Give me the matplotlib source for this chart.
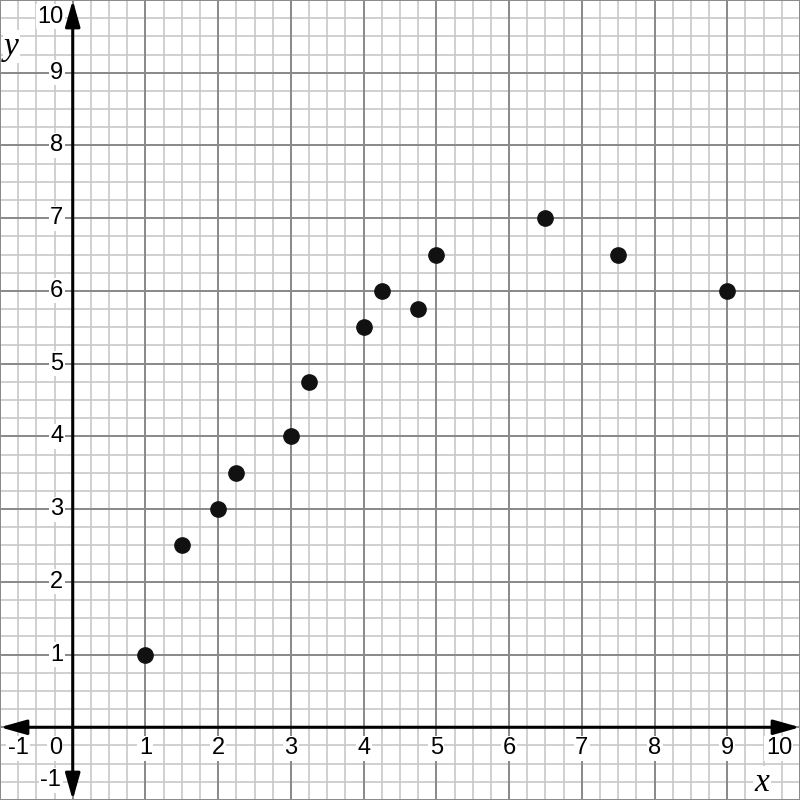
import numpy as np
import matplotlib.pyplot as plt

# Scatter data
xData = [1, 1.5, 2, 2.25, 3, 3.25, 4, 4.25, 4.75, 5, 6.5, 7.5, 9]
yData = [1, 2.5, 3, 3.5, 4, 4.75, 5.5, 6, 5.75, 6.5, 7, 6.5, 6]
xTicks = [1, 2, 3, 4, 5, 6, 7, 8, 9]
yTicks = [1, 2, 3, 4, 5, 6, 7, 8, 9]

plt.rcParams['font.family'] = ['Liberation Sans', 'DejaVu Sans']

fig = plt.figure(figsize=(8, 8), dpi=100)
ax = fig.add_axes([0, 0, 1, 1])
ax.set_xlim(-1, 10)
ax.set_ylim(-1, 10)
ax.axis("off")

# Graph paper grid
minor = np.arange(-1, 10.01, 0.25)
major = np.arange(-1, 10.01, 1.0)
for v in minor:
    ax.axvline(v, color="#c8c8c8", lw=1.2, zorder=0)
    ax.axhline(v, color="#c8c8c8", lw=1.2, zorder=0)
for v in major:
    ax.axvline(v, color="#8a8a8a", lw=1.4, zorder=0.5)
    ax.axhline(v, color="#8a8a8a", lw=1.4, zorder=0.5)

# Axes with arrows at both ends
arrow = dict(arrowstyle="<|-|>,head_length=1.6,head_width=0.45",
             color="black", lw=2.2, shrinkA=0, shrinkB=0)
ax.annotate("", xy=(10, 0), xytext=(-1, 0), arrowprops=arrow, zorder=3)
ax.annotate("", xy=(0, 10), xytext=(0, -1), arrowprops=arrow, zorder=3)

box = dict(facecolor="white", edgecolor="none", pad=1)
for t in xTicks:
    ax.text(t, -0.29, str(t), ha="center", va="center", fontsize=17,
            bbox=box, zorder=2)
for t in yTicks:
    ax.text(-0.13, t, str(t), ha="right", va="center", fontsize=17,
            bbox=box, zorder=2)
ax.text(9.71, -0.29, "10", ha="center", va="center", fontsize=17,
        bbox=box, zorder=2)
ax.text(-0.13, 9.77, "10", ha="right", va="center", fontsize=17,
        bbox=box, zorder=2)
ax.text(-0.75, -0.29, "-1", ha="center", va="center", fontsize=17,
        bbox=box, zorder=2)
ax.text(-0.24, -0.29, "0", ha="center", va="center", fontsize=17,
        bbox=box, zorder=2)
ax.text(-0.16, -0.73, "-1", ha="right", va="center", fontsize=17,
        bbox=box, zorder=2)

# Axis names
ax.text(9.48, -0.76, "x", ha="center", va="center", fontsize=24,
        family="Liberation Serif", style="italic", bbox=box, zorder=2)
ax.text(-0.84, 9.36, "y", ha="center", va="center", fontsize=24,
        family="Liberation Serif", style="italic", bbox=box, zorder=2)

ax.plot(xData, yData, "o", color="#111111", markersize=11, zorder=4)

fig.savefig("out.png", dpi=100)
